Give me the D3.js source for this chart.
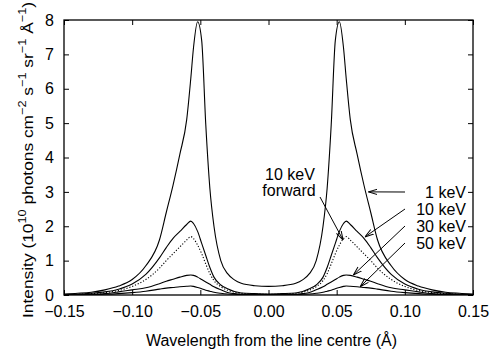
<!DOCTYPE html>
<html>
<head>
<meta charset="utf-8">
<script src="https://cdn.jsdelivr.net/npm/d3@7"></script>
<style>
  body { margin: 0; background: #fff; }
  svg text { font-family: "Liberation Sans", Arial, Helvetica, sans-serif; fill: #000; }
</style>
</head>
<body>
<div id="chart"></div>
<script>
// Wavelength grid (Å from line centre)
const wavelength = [-0.15, -0.14, -0.13, -0.12, -0.11, -0.10, -0.09, -0.08, -0.075, -0.07,
  -0.065, -0.06, -0.057, -0.055, -0.052, -0.049, -0.046, -0.043, -0.04, -0.035, -0.03,
  -0.025, -0.02, -0.01, 0, 0.01, 0.02, 0.025, 0.03, 0.035, 0.04, 0.043, 0.046, 0.049,
  0.052, 0.055, 0.057, 0.06, 0.065, 0.07, 0.075, 0.08, 0.09, 0.10, 0.11, 0.12, 0.13,
  0.14, 0.15];

// Intensity, 10^10 photons cm^-2 s^-1 sr^-1 Å^-1
const kev1 = [0.03, 0.05, 0.08, 0.15, 0.26, 0.45, 0.85, 1.6, 2.4, 3.2,
  4.1, 5.1, 6.3, 7.2, 7.95, 7.4, 4.95, 3.1, 2.0, 1.0, 0.62,
  0.44, 0.34, 0.27, 0.25, 0.27, 0.34, 0.44, 0.62, 1.0, 2.0, 3.1, 4.95, 7.4,
  7.95, 7.2, 6.3, 5.1, 4.1, 3.2, 2.4, 1.6, 0.85, 0.45, 0.26, 0.15, 0.08,
  0.05, 0.03];

const kev10 = [0.01, 0.02, 0.05, 0.09, 0.17, 0.32, 0.6, 1.08, 1.38, 1.65,
  1.85, 2.05, 2.15, 2.08, 1.85, 1.5, 1.15, 0.8, 0.52, 0.29, 0.18,
  0.1, 0.06, 0.04, 0.03, 0.04, 0.06, 0.1, 0.18, 0.29, 0.52, 0.8, 1.15, 1.5,
  1.85, 2.08, 2.15, 2.05, 1.85, 1.65, 1.38, 1.08, 0.6, 0.32, 0.17, 0.09, 0.05,
  0.02, 0.01];

const kev10fwd = [0.01, 0.02, 0.04, 0.07, 0.13, 0.25, 0.45, 0.78, 1.0, 1.2,
  1.4, 1.6, 1.7, 1.64, 1.45, 1.2, 0.9, 0.62, 0.42, 0.24, 0.14,
  0.08, 0.05, 0.03, 0.02, 0.03, 0.05, 0.08, 0.14, 0.24, 0.42, 0.62, 0.9, 1.2,
  1.45, 1.64, 1.7, 1.6, 1.4, 1.2, 1.0, 0.78, 0.45, 0.25, 0.13, 0.07, 0.04,
  0.02, 0.01];

const kev30 = [0.0, 0.01, 0.02, 0.04, 0.09, 0.15, 0.21, 0.33, 0.4, 0.46,
  0.52, 0.57, 0.58, 0.57, 0.52, 0.45, 0.38, 0.31, 0.24, 0.15, 0.07,
  0.04, 0.02, 0.01, 0.01, 0.01, 0.02, 0.04, 0.07, 0.15, 0.24, 0.31, 0.38, 0.45,
  0.52, 0.57, 0.58, 0.57, 0.52, 0.46, 0.4, 0.33, 0.21, 0.15, 0.09, 0.04, 0.02,
  0.01, 0.0];

const kev50 = [0.0, 0.005, 0.01, 0.02, 0.04, 0.07, 0.11, 0.17, 0.2, 0.22,
  0.24, 0.255, 0.26, 0.25, 0.22, 0.18, 0.14, 0.11, 0.08, 0.05, 0.03,
  0.02, 0.01, 0.005, 0.0, 0.005, 0.01, 0.02, 0.03, 0.05, 0.08, 0.11, 0.14, 0.18,
  0.22, 0.25, 0.26, 0.255, 0.24, 0.22, 0.2, 0.17, 0.11, 0.07, 0.04, 0.02, 0.01,
  0.005, 0.0];

const xTicks = [-0.15, -0.10, -0.05, 0.00, 0.05, 0.10, 0.15];
const yTicks = [0, 1, 2, 3, 4, 5, 6, 7, 8];

// Right-hand labels and the curve point each arrow hits
const labels = ['1 keV', '10 keV', '30 keV', '50 keV'];
const arrowTips = [[0.0733, 3.0], [0.0707, 1.69], [0.0622, 0.58], [0.0672, 0.24]];

const W = 501, H = 350;
const margin = { top: 20, right: 28, bottom: 55, left: 64 };
const iw = W - margin.left - margin.right;
const ih = H - margin.top - margin.bottom;
const FS = 16;

const svg = d3.select('#chart').append('svg')
  .attr('width', W).attr('height', H);

const defs = svg.append('defs');
defs.append('marker')
  .attr('id', 'head')
  .attr('viewBox', '0 0 10 10')
  .attr('refX', 10).attr('refY', 5)
  .attr('markerWidth', 9).attr('markerHeight', 9)
  .attr('markerUnits', 'userSpaceOnUse')
  .attr('orient', 'auto')
  .append('path')
  .attr('d', 'M0,2 L10,5 L0,8')
  .attr('fill', 'none').attr('stroke', '#000').attr('stroke-width', 1.1);
defs.append('clipPath').attr('id', 'clip')
  .append('rect').attr('width', iw).attr('height', ih);

const g = svg.append('g').attr('transform', `translate(${margin.left},${margin.top})`);

const x = d3.scaleLinear().domain([-0.15, 0.15]).range([0, iw]);
const y = d3.scaleLinear().domain([0, 8]).range([ih, 0]);

const fmtX = d => (d < 0 ? '\u2212' : '') + d3.format('.2f')(Math.abs(d));

// axes: ticks inward on all four sides
const tickLen = 5;
const axBottom = g.append('g').attr('transform', `translate(0,${ih})`)
  .call(d3.axisBottom(x).tickValues(xTicks).tickFormat(fmtX).tickSizeInner(-tickLen).tickSizeOuter(0).tickPadding(11));
const axTop = g.append('g')
  .call(d3.axisTop(x).tickValues(xTicks).tickFormat('').tickSizeInner(-tickLen).tickSizeOuter(0));
const axLeft = g.append('g')
  .call(d3.axisLeft(y).tickValues(yTicks).tickFormat(d3.format('d')).tickSizeInner(-tickLen).tickSizeOuter(0).tickPadding(10));
const axRight = g.append('g').attr('transform', `translate(${iw},0)`)
  .call(d3.axisRight(y).tickValues(yTicks).tickFormat('').tickSizeInner(-tickLen).tickSizeOuter(0));

[axBottom, axTop, axLeft, axRight].forEach(a => {
  a.select('.domain').remove();
  a.selectAll('line').attr('stroke', '#000').attr('stroke-width', 1);
  a.selectAll('text').attr('font-size', FS).attr('font-family', '"Liberation Sans", Arial, sans-serif');
});

// curves
const series = [
  { values: kev1, dash: null },
  { values: kev10, dash: null },
  { values: kev10fwd, dash: '1.2,1.8' },
  { values: kev30, dash: null },
  { values: kev50, dash: null }
];
const line = d3.line()
  .x(d => x(d[0])).y(d => y(d[1]))
  .curve(d3.curveMonotoneX);

g.append('g').attr('clip-path', 'url(#clip)')
  .selectAll('path').data(series).enter().append('path')
  .attr('d', s => line(wavelength.map((w, i) => [w, s.values[i]])))
  .attr('fill', 'none')
  .attr('stroke', '#000')
  .attr('stroke-width', 1.1)
  .attr('stroke-dasharray', s => s.dash);

// frame
g.append('rect').attr('width', iw).attr('height', ih)
  .attr('fill', 'none').attr('stroke', '#000').attr('stroke-width', 1.3);

// right-hand labels with arrows
const labY = [192, 209, 226, 243];
labels.forEach((t, i) => {
  g.append('text')
    .attr('x', 466 - margin.left).attr('y', labY[i] - margin.top + 6)
    .attr('text-anchor', 'end').attr('font-size', FS).text(t);
  g.append('line')
    .attr('x1', 405 - margin.left).attr('y1', labY[i] - margin.top)
    .attr('x2', x(arrowTips[i][0])).attr('y2', y(arrowTips[i][1]))
    .attr('stroke', '#000').attr('stroke-width', 1)
    .attr('marker-end', 'url(#head)');
});

// "10 keV forward" label pointing at the dotted curve
g.append('text').attr('x', 290 - margin.left).attr('y', 180 - margin.top)
  .attr('text-anchor', 'middle').attr('font-size', FS).text('10 keV');
g.append('text').attr('x', 289 - margin.left).attr('y', 196 - margin.top)
  .attr('text-anchor', 'middle').attr('font-size', FS).text('forward');
g.append('line')
  .attr('x1', 320 - margin.left).attr('y1', 197 - margin.top)
  .attr('x2', x(0.0547)).attr('y2', y(1.6))
  .attr('stroke', '#000').attr('stroke-width', 1)
  .attr('marker-end', 'url(#head)');

// axis titles
svg.append('text')
  .attr('x', margin.left + iw / 2 + 3).attr('y', 346)
  .attr('text-anchor', 'middle').attr('font-size', FS)
  .text('Wavelength from the line centre (\u00c5)');

// y title is drawn stretched along its length, as in the original figure
const yl = svg.append('text')
  .attr('transform', 'translate(33,160) rotate(-90)')
  .attr('text-anchor', 'middle').attr('font-size', 15)
  .attr('textLength', 316).attr('lengthAdjust', 'spacingAndGlyphs');
const parts = [
  ['Intensity (10', 0], ['10', 1], [' photons cm', 0], ['\u22122', 1], [' s', 0], ['\u22121', 1],
  [' sr', 0], ['\u22121', 1], [' \u00c5', 0], ['\u22121', 1], [')', 0]
];
let prevSup = false;
parts.forEach(([t, sup]) => {
  const ts = yl.append('tspan').text(t);
  if (sup) ts.attr('font-size', 11).attr('dy', -7);
  else if (prevSup) ts.attr('dy', 7);
  prevSup = !!sup;
});
</script>
</body>
</html>
